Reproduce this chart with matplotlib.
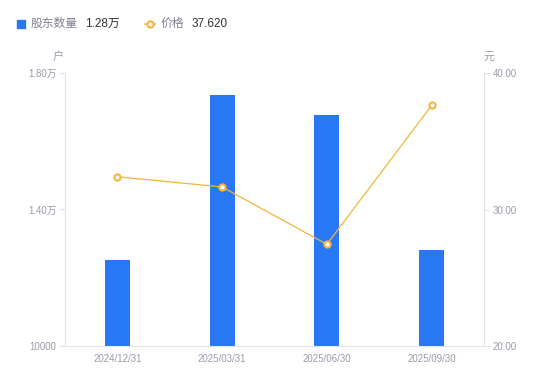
import matplotlib
matplotlib.use('Agg')
import matplotlib.pyplot as plt
from matplotlib.lines import Line2D
from matplotlib.patches import Rectangle

plt.rcParams['font.family'] = ['Liberation Sans', 'Noto Sans CJK SC', 'DejaVu Sans']

# data
dates = ['2024/12/31', '2025/03/31', '2025/06/30', '2025/09/30']
holders = [12520, 17350, 16780, 12800]
prices = [32.40, 31.65, 27.45, 37.62]
left_ticks = [10000, 14000, 18000]
left_labels = ['10000', '1.40万', '1.80万']
right_ticks = [20, 30, 40]
right_labels = ['20.00', '30.00', '40.00']

bar_color = '#2878f5'
line_color = '#f5b43c'
label_color = '#9b9bab'
axis_color = '#e3e3ea'

fig = plt.figure(figsize=(5.5, 3.81), dpi=100)
ax = fig.add_axes([65 / 550, 35 / 381, 419 / 550, 273 / 381])
ax2 = ax.twinx()

x = range(len(dates))
ax.bar(x, holders, width=25 / 104.75, color=bar_color, zorder=2)
ax.set_xlim(-0.5, len(dates) - 0.5)
ax.set_ylim(10000, 18000)
ax.set_yticks(left_ticks)
ax.set_yticklabels(left_labels)
ax.set_xticks(list(x))
ax.set_xticklabels(dates)

ax2.plot(x, prices, color=line_color, lw=0.9, marker='o', ms=4.5,
         mfc='white', mec=line_color, mew=1.5, zorder=3)
ax2.set_ylim(20, 40)
ax2.set_yticks(right_ticks)
ax2.set_yticklabels(right_labels)

for a in (ax, ax2):
    for s in a.spines.values():
        s.set_visible(False)
    a.tick_params(axis='y', colors=axis_color, labelcolor=label_color,
                  labelsize=7, length=4, width=0.8, pad=2)
    a.tick_params(axis='x', length=0, labelcolor=label_color, labelsize=7, pad=6)
ax.spines['left'].set_visible(True)
ax.spines['left'].set_color(axis_color)
ax.spines['bottom'].set_visible(True)
ax.spines['bottom'].set_color(axis_color)
ax2.spines['right'].set_visible(True)
ax2.spines['right'].set_color(axis_color)

# unit labels
fig.text(58 / 550, 1 - 57 / 381, '户', color=label_color, fontsize=8,
         ha='center', va='center')
fig.text(489 / 550, 1 - 57 / 381, '元', color=label_color, fontsize=8,
         ha='center', va='center')

# legend row
ly = 1 - 24 / 381
fig.patches.append(Rectangle((17 / 550, 1 - 28 / 381), 8 / 550, 8 / 381,
                             transform=fig.transFigure, color=bar_color))
fig.text(31 / 550, ly, '股东数量', color='#808090', fontsize=8.5, va='center')
fig.text(85 / 550, ly, '1.28万', color='#333333', fontsize=8.5, va='center')
fig.lines.append(Line2D([145 / 550, 155 / 550], [ly, ly], transform=fig.transFigure,
                        color=line_color, lw=1.2))
fig.lines.append(Line2D([150 / 550], [ly], transform=fig.transFigure,
                        color=line_color, marker='o', ms=4.5, mfc='white',
                        mec=line_color, mew=1.5, lw=0))
fig.text(161 / 550, ly, '价格', color='#808090', fontsize=8.5, va='center')
fig.text(192 / 550, ly, '37.620', color='#333333', fontsize=8.5, va='center')

fig.savefig('out.png', dpi=100)
